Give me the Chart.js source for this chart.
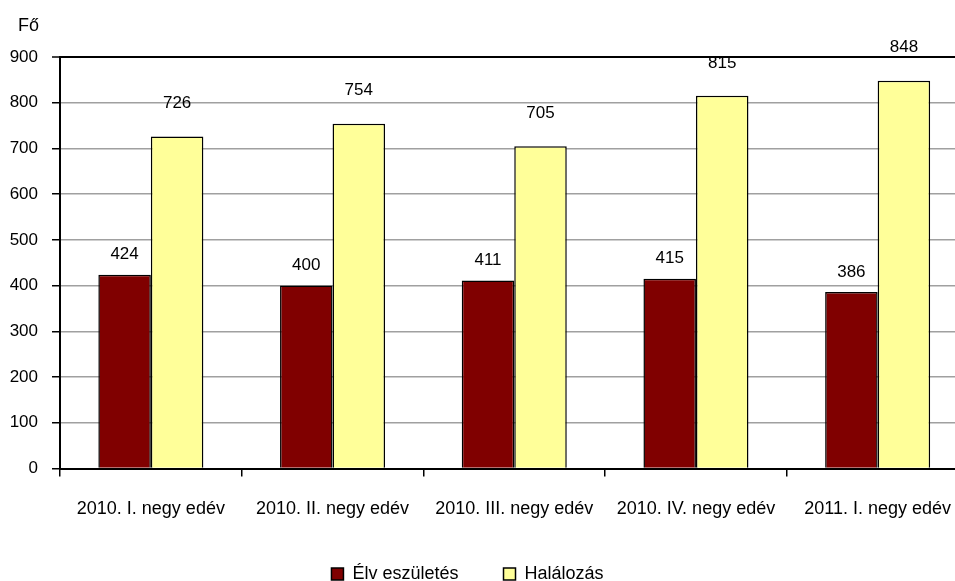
<!DOCTYPE html>
<html>
<head>
<meta charset="utf-8">
<script src="https://cdn.jsdelivr.net/npm/chart.js@4"></script>
<style>
  html, body { margin: 0; padding: 0; overflow: hidden; background: #fff; }
</style>
</head>
<body>
<canvas id="myChart" width="970" height="581"></canvas>
<script>
const quarters = ['2010. I. negy edév', '2010. II. negy edév', '2010. III. negy edév', '2010. IV. negy edév', '2011. I. negy edév'];
const births = [424, 400, 411, 415, 386];
const deaths = [726, 754, 705, 815, 848];
const yMax = 900;
const yStep = 100;
const unitLabel = 'Fő';

Chart.defaults.font.family = '"Liberation Sans", Arial, sans-serif';
Chart.defaults.font.size = 17;
Chart.defaults.color = '#000';

// value labels above bars + the unit text over the y axis
const extras = {
  id: 'extras',
  afterDatasetsDraw(chart, args, opts) {
    const ctx = chart.ctx;
    ctx.save();
    ctx.font = '17px "Liberation Sans", Arial, sans-serif';
    ctx.fillStyle = '#000';
    ctx.textAlign = 'center';
    ctx.textBaseline = 'middle';
    chart.data.datasets.forEach((ds, i) => {
      chart.getDatasetMeta(i).data.forEach((bar, j) => {
        ctx.fillText(ds.data[j], bar.x, bar.y - opts.lift[i]);
      });
    });
    ctx.textAlign = 'right';
    ctx.font = '18px "Liberation Sans", Arial, sans-serif';
    ctx.fillText(unitLabel, chart.chartArea.left - 21, chart.chartArea.top - 31);
    ctx.restore();
  }
};

new Chart(document.getElementById('myChart'), {
  type: 'bar',
  data: {
    labels: quarters,
    datasets: [{
      label: 'Élv eszületés',
      data: births,
      backgroundColor: '#800000',
      borderColor: '#000',
      borderWidth: 1.5
    }, {
      label: 'Halálozás',
      data: deaths,
      backgroundColor: '#ffff99',
      borderColor: '#000',
      borderWidth: 1.5
    }]
  },
  plugins: [extras],
  options: {
    responsive: false,
    animation: false,
    categoryPercentage: 0.578,
    barPercentage: 1,
    layout: { padding: { left: -33.5, right: 1.5, top: 57, bottom: -12 } },
    scales: {
      x: {
        afterFit: s => { s.height = 51.5; s.paddingLeft = 0; s.paddingRight = 0; },
        grid: { drawOnChartArea: false, offset: true, tickLength: 8, tickColor: '#000', lineWidth: 1.5 },
        border: { color: '#000', width: 2 },
        ticks: { padding: 22, maxRotation: 0, autoSkip: false, font: { size: 18 } }
      },
      y: {
        min: 0,
        max: yMax,
        afterFit: s => { s.width = 93.5; },
        ticks: { stepSize: yStep, padding: 14 },
        grid: {
          color: c => c.tick && c.tick.value === yMax ? '#000' : '#a0a0a0',
          lineWidth: c => c.tick && c.tick.value === yMax ? 2 : 1.5,
          tickLength: 8,
          tickColor: '#000',
          tickWidth: 1.5
        },
        border: { color: '#000', width: 2 }
      }
    },
    plugins: {
      legend: {
        position: 'bottom',
        labels: { boxWidth: 12, boxHeight: 12, padding: 45, font: { size: 18 } }
      },
      tooltip: { enabled: false },
      extras: { lift: [20, 33] }
    }
  }
});
</script>
</body>
</html>
